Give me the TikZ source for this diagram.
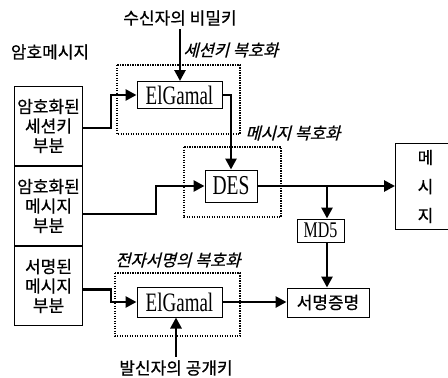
\documentclass[tikz,border=0pt]{standalone}
\usepackage{fontspec}
\setmainfont{Liberation Serif}
\newfontfamily\kor[FakeBold=0.6]{Noto Sans CJK KR}
\newfontfamily\korit[FakeSlant=0.25,FakeBold=0.6]{Noto Sans CJK KR}
\usetikzlibrary{arrows.meta}
\usetikzlibrary{positioning}
\usetikzlibrary{calc}
% tall serif text for the cipher boxes
\newcommand{\tallserif}[2][19]{{\fontsize{#1}{#1}\selectfont\scalebox{1}[1.4]{#2}}}
\tikzset{
  box/.style={draw, line width=1pt, inner sep=0pt, align=center},
  part/.style={box, minimum width=68pt, minimum height=79pt, font=\kor\fontsize{17}{19.5}\selectfont},
  flow/.style={line width=2.8pt, -{Triangle[length=11pt,width=11pt]}},
  stage/.style={line width=1.1pt, dash pattern=on 1.2pt off 1.3pt},
  stagename/.style={font=\korit\fontsize{16.5}{16}\selectfont},
  keyname/.style={font=\kor\fontsize{17}{16}\selectfont},
}
\begin{document}
\begin{tikzpicture}[x=1pt,y=-1pt]
\useasboundingbox (0,0) rectangle (448,378);
% encrypted message
\node[keyname] (msgtitle) at (50,52) {암호메시지};
\node[part, anchor=north west] (secA) at (14,86) {암호화된\\세션키\\부분};
\node[part, below=0pt of secA] (secB) {암호화된\\메시지\\부분};
\node[part, below=0pt of secB] (secC) {서명된\\메시지\\부분};
% session key decryption
\node[keyname] (privkey) at (180,18) {수신자의 비밀키};
\node[box, minimum width=85pt, minimum height=27pt] (eg1) at (179.5,95) {\tallserif{ElGamal}};
\draw[stage] (117,65) rectangle (240,134);
\node[stagename, anchor=west] (stageA) at (180,50) {세션키 복호화};
% message decryption
\node[box, minimum width=52pt, minimum height=32pt] (des) at (231,186) {\tallserif[19.5]{DES}};
\draw[stage] (184,147) rectangle (281,217);
\node[stagename, anchor=west] (stageB) at (242,133) {메시지 복호화};
\node[box, minimum width=60pt, minimum height=86pt, anchor=north west, font=\kor\fontsize{17}{29}\selectfont] (plain) at (395,143) {메\\시\\지};
% signature decryption
\node[box, minimum width=47pt, minimum height=23pt] (md5) at (320.5,230.5) {\tallserif[16]{MD5}};
\node[box, minimum width=82pt, minimum height=29pt, font=\kor\fontsize{17}{16}\selectfont] (proof) at (328,302.5) {서명증명};
\node[box, minimum width=85pt, minimum height=30pt] (eg2) at (179.5,302) {\tallserif{ElGamal}};
\draw[stage] (115,273) rectangle (240,336);
\node[stagename] (stageC) at (178,260) {전자서명의 복호화};
\node[keyname] (pubkey) at (176,368) {발신자의 공개키};
% connectors
\draw[flow] ([yshift=-2pt]secA.east) -- ++(28,0) |- (eg1.west);
\draw[flow] ([yshift=-8pt]secB.east) -- ++(73,0) |- (des.west);
\draw[flow] ([yshift=-3.5pt]secC.east) -- ++(28,0) |- (eg2.west);
\draw[flow] (privkey) -- (privkey |- eg1.north);
\draw[flow] (pubkey) -- (pubkey |- eg2.south);
\draw[flow] (eg1.east) -| (des.north);
\draw[flow] (des.east) -- (des.east -| plain.west);
\coordinate (split) at (327,186);
\draw[flow] (split) -- (split |- md5.north);
\draw[flow] (md5.south -| split) -- (split |- proof.north);
\draw[flow] (eg2.east) -- (eg2.east -| proof.west);
\end{tikzpicture}
\end{document}
